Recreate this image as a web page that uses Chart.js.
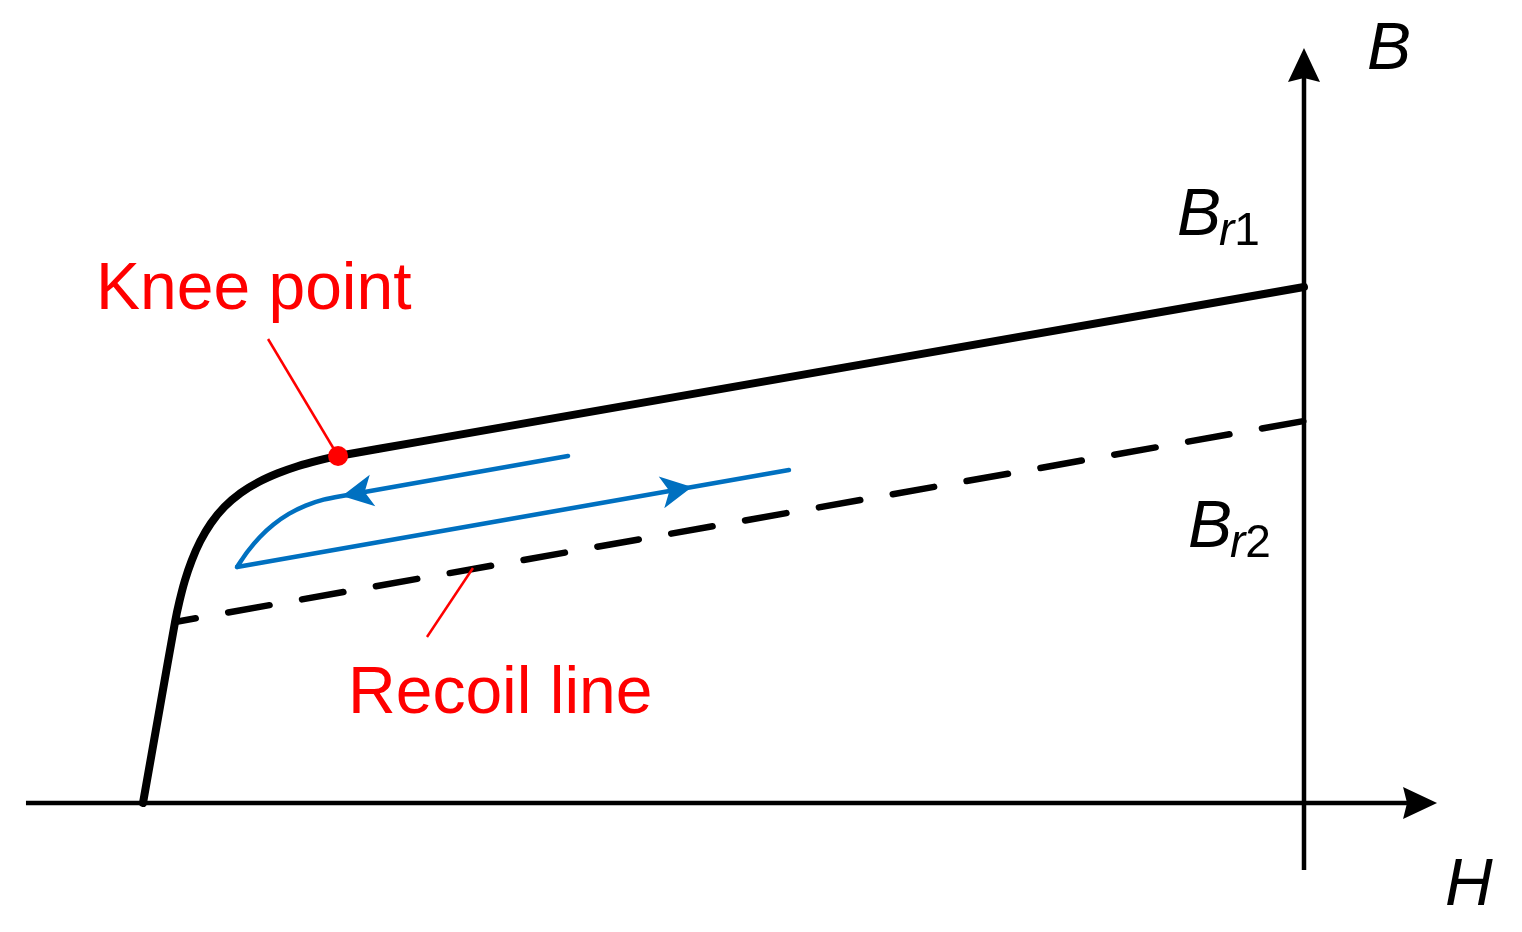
<!DOCTYPE html>
<html><head><meta charset="utf-8">
<script src="https://cdn.jsdelivr.net/npm/chart.js@4.4.1/dist/chart.umd.min.js"></script>
<style>html,body{margin:0;padding:0;background:#fff;} #wrap{width:1522px;height:932px;position:relative;} canvas{display:block;}</style>
</head><body><div id="wrap"><canvas id="c"></canvas></div>
<script>
// ---- Data (H normalised so the steep branch meets H axis at -1; B normalised so Br1 = 1) ----
// demagnetisation curve: steep branch, knee, straight upper branch up to Br1
const demagH = [-1.0, -0.9854, -0.9724, -0.9686, -0.9640, -0.9581, -0.9507, -0.9414, -0.9298, -0.9159,
                -0.9004, -0.8839, -0.8668, -0.8494, -0.8320, -0.7614, 0];
const demagB = [0, 0.1860, 0.3508, 0.3909, 0.4306, 0.4696, 0.5072, 0.5424, 0.5740, 0.6008,
                0.6221, 0.6390, 0.6527, 0.6636, 0.6725, 0.7003, 1.0];
// recoil line (dashed) up to Br2
const recoilLineH = [-0.9724, 0];
const recoilLineB = [0.3508, 0.7403];
// blue minor loop: return branch (straight then curved) and rising straight branch
const blueReturnH = [-0.6339, -0.8286, -0.8445, -0.8599, -0.8744, -0.8876, -0.8995, -0.9099, -0.9190];
const blueReturnB = [0.6725, 0.5950, 0.5878, 0.5764, 0.5603, 0.5397, 0.5151, 0.4874, 0.4574];
const blueRiseH = [-0.9190, -0.4436];
const blueRiseB = [0.4574, 0.6453];
const kneePointH = [-0.8320];
const kneePointB = [0.6725];
const kneeLeaderH = [-0.8923, -0.8320];
const kneeLeaderB = [0.8992, 0.6725];
const recoilLeaderH = [-0.7554, -0.7158];
const recoilLeaderB = [0.3217, 0.4554];
const hAxisH = [-1.1008, 0.0887];
const hAxisB = [0, 0];
const bAxisH = [0, 0];
const bAxisB = [-0.1298, 1.4050];
// arrow heads: tip and the point they come from
const arrowTipH = [0.1146, 0, -0.8286, -0.5271];
const arrowTipB = [0, 1.4632, 0.5950, 0.6124];
const arrowFromH = [-1.1008, 0, -0.6339, -0.9190];
const arrowFromB = [0, -0.1298, 0.6725, 0.4574];
// labels
const labelText = ['Knee point', 'Recoil line', 'B', 'H'];
const labelH = [-1.0405, -0.8234, 0.0543, 0.1214];
const labelB = [0.9574, 0.1744, 1.4225, -0.1977];
const subLabelMain = ['B', 'B'];
const subLabelSub = ['r', 'r'];
const subLabelDigit = ['1', '2'];
const subLabelH = [-0.1094, -0.0999];
const subLabelB = [1.1008, 0.4961];

// ---- styles ----
const BLACK = '#000000', BLUE = '#0070C0', RED = '#FF0000';
const FONT = "'Liberation Sans', Arial, sans-serif";
const labelStyle = [
  {color: RED, font: '66px ' + FONT},
  {color: RED, font: '66px ' + FONT},
  {color: BLACK, font: 'italic 66px ' + FONT},
  {color: BLACK, font: 'italic 66px ' + FONT}
];
const arrowStyle = [
  {color: BLACK, len: 34, half: 16, notch: 4},
  {color: BLACK, len: 34, half: 16, notch: 4},
  {color: BLUE, len: 31, half: 16, notch: 8},
  {color: BLUE, len: 31, half: 16, notch: 8}
];

const pts = (h, b) => h.map((v, i) => ({x: v, y: b[i]}));
const lineDS = (h, b, color, width, extra) => Object.assign({
  data: pts(h, b), showLine: true, borderColor: color, backgroundColor: color,
  borderWidth: width, pointRadius: 0, borderCapStyle: 'round', borderJoinStyle: 'round',
  tension: 0, fill: false, order: 5
}, extra || {});

const datasets = [
  lineDS(kneePointH, kneePointB, RED, 0, {showLine: false, pointRadius: 10, pointBackgroundColor: RED, pointBorderWidth: 0, order: 0}),
  lineDS(kneeLeaderH, kneeLeaderB, RED, 2.5, {order: 1, borderCapStyle: 'butt'}),
  lineDS(recoilLeaderH, recoilLeaderB, RED, 2.5, {order: 1, borderCapStyle: 'butt'}),
  lineDS(demagH, demagB, BLACK, 8, {tension: 0.3}),
  lineDS(recoilLineH, recoilLineB, BLACK, 6.5, {borderDash: [42, 33], borderDashOffset: 21}),
  lineDS(blueReturnH, blueReturnB, BLUE, 4.5, {order: 3, tension: 0.3}),
  lineDS(blueRiseH, blueRiseB, BLUE, 4.5, {order: 3}),
  lineDS(hAxisH, hAxisB, BLACK, 4.5, {borderCapStyle: 'butt', order: 6}),
  lineDS(bAxisH, bAxisB, BLACK, 4.5, {borderCapStyle: 'butt', order: 6})
];

const arrowPlugin = {
  id: 'arrows',
  afterDatasetsDraw(chart) {
    const ctx = chart.ctx, xs = chart.scales.x, ys = chart.scales.y;
    arrowTipH.forEach((h, i) => {
      const tx = xs.getPixelForValue(h), ty = ys.getPixelForValue(arrowTipB[i]);
      const fx = xs.getPixelForValue(arrowFromH[i]), fy = ys.getPixelForValue(arrowFromB[i]);
      const a = Math.atan2(ty - fy, tx - fx), s = arrowStyle[i];
      ctx.save();
      ctx.translate(tx, ty); ctx.rotate(a);
      ctx.beginPath();
      ctx.moveTo(0, 0);
      ctx.lineTo(-s.len, -s.half);
      ctx.lineTo(-s.len + s.notch, 0);
      ctx.lineTo(-s.len, s.half);
      ctx.closePath();
      ctx.fillStyle = s.color; ctx.fill();
      ctx.restore();
    });
  }
};

const labelPlugin = {
  id: 'labels',
  afterDraw(chart) {
    const ctx = chart.ctx, xs = chart.scales.x, ys = chart.scales.y;
    ctx.save();
    ctx.textBaseline = 'alphabetic'; ctx.textAlign = 'left';
    labelText.forEach((t, i) => {
      ctx.font = labelStyle[i].font; ctx.fillStyle = labelStyle[i].color;
      ctx.fillText(t, xs.getPixelForValue(labelH[i]), ys.getPixelForValue(labelB[i]));
    });
    subLabelMain.forEach((t, i) => {
      const x = xs.getPixelForValue(subLabelH[i]), y = ys.getPixelForValue(subLabelB[i]);
      ctx.fillStyle = BLACK;
      ctx.font = 'italic 66px ' + FONT;
      ctx.fillText(t, x, y);
      let x2 = x + ctx.measureText(t).width - 2;
      ctx.font = 'italic 46px ' + FONT;
      ctx.fillText(subLabelSub[i], x2, y + 10);
      x2 += ctx.measureText(subLabelSub[i]).width;
      ctx.font = '46px ' + FONT;
      ctx.fillText(subLabelDigit[i], x2, y + 10);
    });
    ctx.restore();
  }
};

new Chart(document.getElementById('c'), {
  type: 'scatter',
  data: {datasets},
  options: {
    responsive: true, maintainAspectRatio: false, animation: false, events: [],
    layout: {padding: 0, autoPadding: false},
    plugins: {legend: {display: false}, tooltip: {enabled: false}},
    scales: {
      x: {type: 'linear', min: -1.12317, max: 0.18777, display: false},
      y: {type: 'linear', min: -0.25, max: 1.55620, display: false}
    }
  },
  plugins: [arrowPlugin, labelPlugin]
});
</script></body></html>
